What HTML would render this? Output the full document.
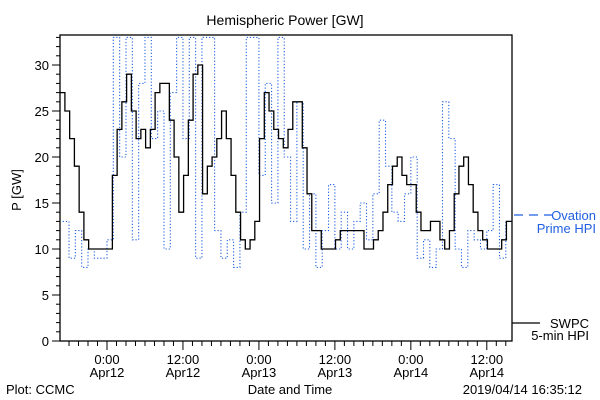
<!DOCTYPE html>
<html><head><meta charset="utf-8"><style>
body{margin:0;background:#fff}
svg{display:block;font-family:"Liberation Sans",sans-serif}
</style></head><body>
<svg id="chart" width="600" height="400" viewBox="0 0 600 400">
<rect width="600" height="400" fill="#fff"/>
<text x="285" y="25" font-size="14" text-anchor="middle">Hemispheric Power [GW]</text>
<text transform="translate(21,190) rotate(-90)" font-size="13" text-anchor="middle">P [GW]</text>
<text x="290" y="394" font-size="13" text-anchor="middle">Date and Time</text>
<text x="6" y="394" font-size="13">Plot: CCMC</text>
<text x="582" y="394" font-size="13" text-anchor="end">2019/04/14 16:35:12</text>
<g id="axes"></g>
<defs><clipPath id="clip"><rect x="60" y="35" width="452" height="306"/></clipPath></defs>
<g clip-path="url(#clip)" id="series"></g>
<rect x="60" y="35" width="452" height="306" fill="none" stroke="#000" stroke-width="1.3"/>
<g>
<line x1="514" y1="215" x2="552" y2="215" stroke="#2060e0" stroke-width="1.2" stroke-dasharray="9,6"/>
<text x="596" y="220" font-size="13" fill="#2060e0" text-anchor="end">Ovation</text>
<text x="596" y="233" font-size="13" fill="#2060e0" text-anchor="end">Prime HPI</text>
</g>
<g>
<line x1="512" y1="323" x2="540" y2="323" stroke="#000" stroke-width="1.3"/>
<text x="589" y="328" font-size="13" text-anchor="end">SWPC</text>
<text x="589" y="340" font-size="13" text-anchor="end">5-min HPI</text>
</g>
</svg>
<script>
const swpcHours=[-7.4,-7.3,-6.6,-6.1,-5.3,-4.8,-4.3,-3.5,-3,0.2,1,2,3.1,4.1,4.7,5.5,6.3,7.1,7.9,8.6,9.1,10.2,11.3,12,13.1,13.9,14.4,15.2,16,16.8,18.1,19.2,20.5,21.5,22.3,23.4,24.2,24.8,25.4,26.8,27.3,27.8,28.6,29.2,29.9,30.2,31,31.8,32.3,33.1,33.6,35.8,36.8,38.1,38.7,39.4,40.2,40.8,41.6,42.4,43.2,44.2,45.2,45.9,47.1,48.1,48.9,50,51,52.1,52.6,53.4,54.3,55,56.2,57.1,58.2,59.2,59.7,62.1,62.9,64];
const swpcValues=[27,27.1,25.1,22.2,20,17.9,13.2,11,10.1,10.1,19.3,24.8,29.1,24,21.3,22.9,20.2,23.7,28.2,28.2,27.5,22.9,14.2,16.8,26.6,30.2,29.8,14.2,20,20.4,25.1,20,13.2,10.1,10.1,13.5,22.9,27.1,26.2,20.8,23.1,20.4,23.3,26.2,27.1,25.4,20,15,12.1,12.1,10.1,10.1,12.1,12.1,11.1,13,11,10.1,10.1,12.1,12.1,16.4,18.9,20,17,17,14.2,11.1,13,13,11.1,10.1,12.1,16.8,21.1,16.8,12.1,11,10.1,10.1,13,13];
const ovationHours=[-7,-6,-5,-4,-3,-2,-1,0,1,2,3,4,5,6,7,8,9,10,11,12,13,14,15,16,17,18,19,20,21,22,23,24,25,26,27,28,29,30,31,32,33,34,35,36,37,38,39,40,41,42,43,44,45,46,47,48,49,50,51,52,53,54,55,56,57,58,59,60,61,62,63,64];
const ovationValues=[13,9,12,8,10,9,9,11,33,20,33,11,28,33,22,25,10,27,33,22,33,9,33,33,12,9,11,8,14,33,33,18,28,15,33,20,13,26,10,16,8,12,17,10,14,10,13,15,11,16,24,19,14,13,16,20,9,11,8,10,26,22,10,8,12,11,10,12,17,9,13,8];
const yTicks=[0,5,10,15,20,25,30];
const xTickHours=[0,12,24,36,48,60];
const xTickTimes=["0:00","12:00","0:00","12:00","0:00","12:00"];
const xTickDates=["Apr12","Apr12","Apr13","Apr13","Apr14","Apr14"];

const X=h=>107+h*6.33;
const Y=v=>341-v*9.2;
const NS="http://www.w3.org/2000/svg";
const axes=document.getElementById('axes');
const series=document.getElementById('series');
function mk(tag,attrs,parent){const e=document.createElementNS(NS,tag);for(const k in attrs)e.setAttribute(k,attrs[k]);parent.appendChild(e);return e;}

for(let v=0;v<=33;v++){
  const major=v%5===0;
  const t=mk('line',{x1:major?52:56,x2:60,y1:Y(v),y2:Y(v),stroke:'#000','stroke-width':1},axes);
  
  
}
yTicks.forEach(v=>{
  const t=mk('text',{x:49,y:Y(v)+5,'font-size':13,'text-anchor':'end'},axes);
  t.textContent=v;
  
  
});
for(let h=-7.5;h<=64;h+=1.5){
  if(X(h)<60||X(h)>512)continue;
  const major=Math.abs(h%12)<0.01;
  const t=mk('line',{x1:X(h),x2:X(h),y1:341,y2:major?350:346,stroke:'#000','stroke-width':1},axes);
  
  
}
xTickHours.forEach((h,i)=>{
  const a=mk('text',{x:X(h),y:364,'font-size':13,'text-anchor':'middle'},axes);
  a.textContent=xTickTimes[i];
  
  
  const b=mk('text',{x:X(h),y:377,'font-size':13,'text-anchor':'middle'},axes);
  b.textContent=xTickDates[i];
  
  
});
function stepPath(hs,vs){
  let d='M'+X(hs[0])+','+Y(vs[0]);
  for(let i=1;i<hs.length;i++){d+=' L'+X(hs[i])+','+Y(vs[i-1])+' L'+X(hs[i])+','+Y(vs[i]);}
  return d;
}
const ov=mk('path',{d:stepPath(ovationHours,ovationValues),fill:'none',stroke:'#2060e0','stroke-width':1.1,'stroke-dasharray':'1.2,2'},series);


// staircase rendering of SWPC values sampled along the series
function interp(h){
  for(let i=1;i<swpcHours.length;i++){
    if(h<=swpcHours[i]){const t=(h-swpcHours[i-1])/(swpcHours[i]-swpcHours[i-1]);return swpcValues[i-1]+t*(swpcValues[i]-swpcValues[i-1]);}
  }
  return swpcValues[swpcValues.length-1];
}
const sh=[],sv=[];
for(let h=swpcHours[0];h<=swpcHours[swpcHours.length-1];h+=0.75){sh.push(h);sv.push(Math.round(interp(h)));}
const sw=mk('path',{d:stepPath(sh,sv),fill:'none',stroke:'#000','stroke-width':1.3},series);


</script>
</body></html>
